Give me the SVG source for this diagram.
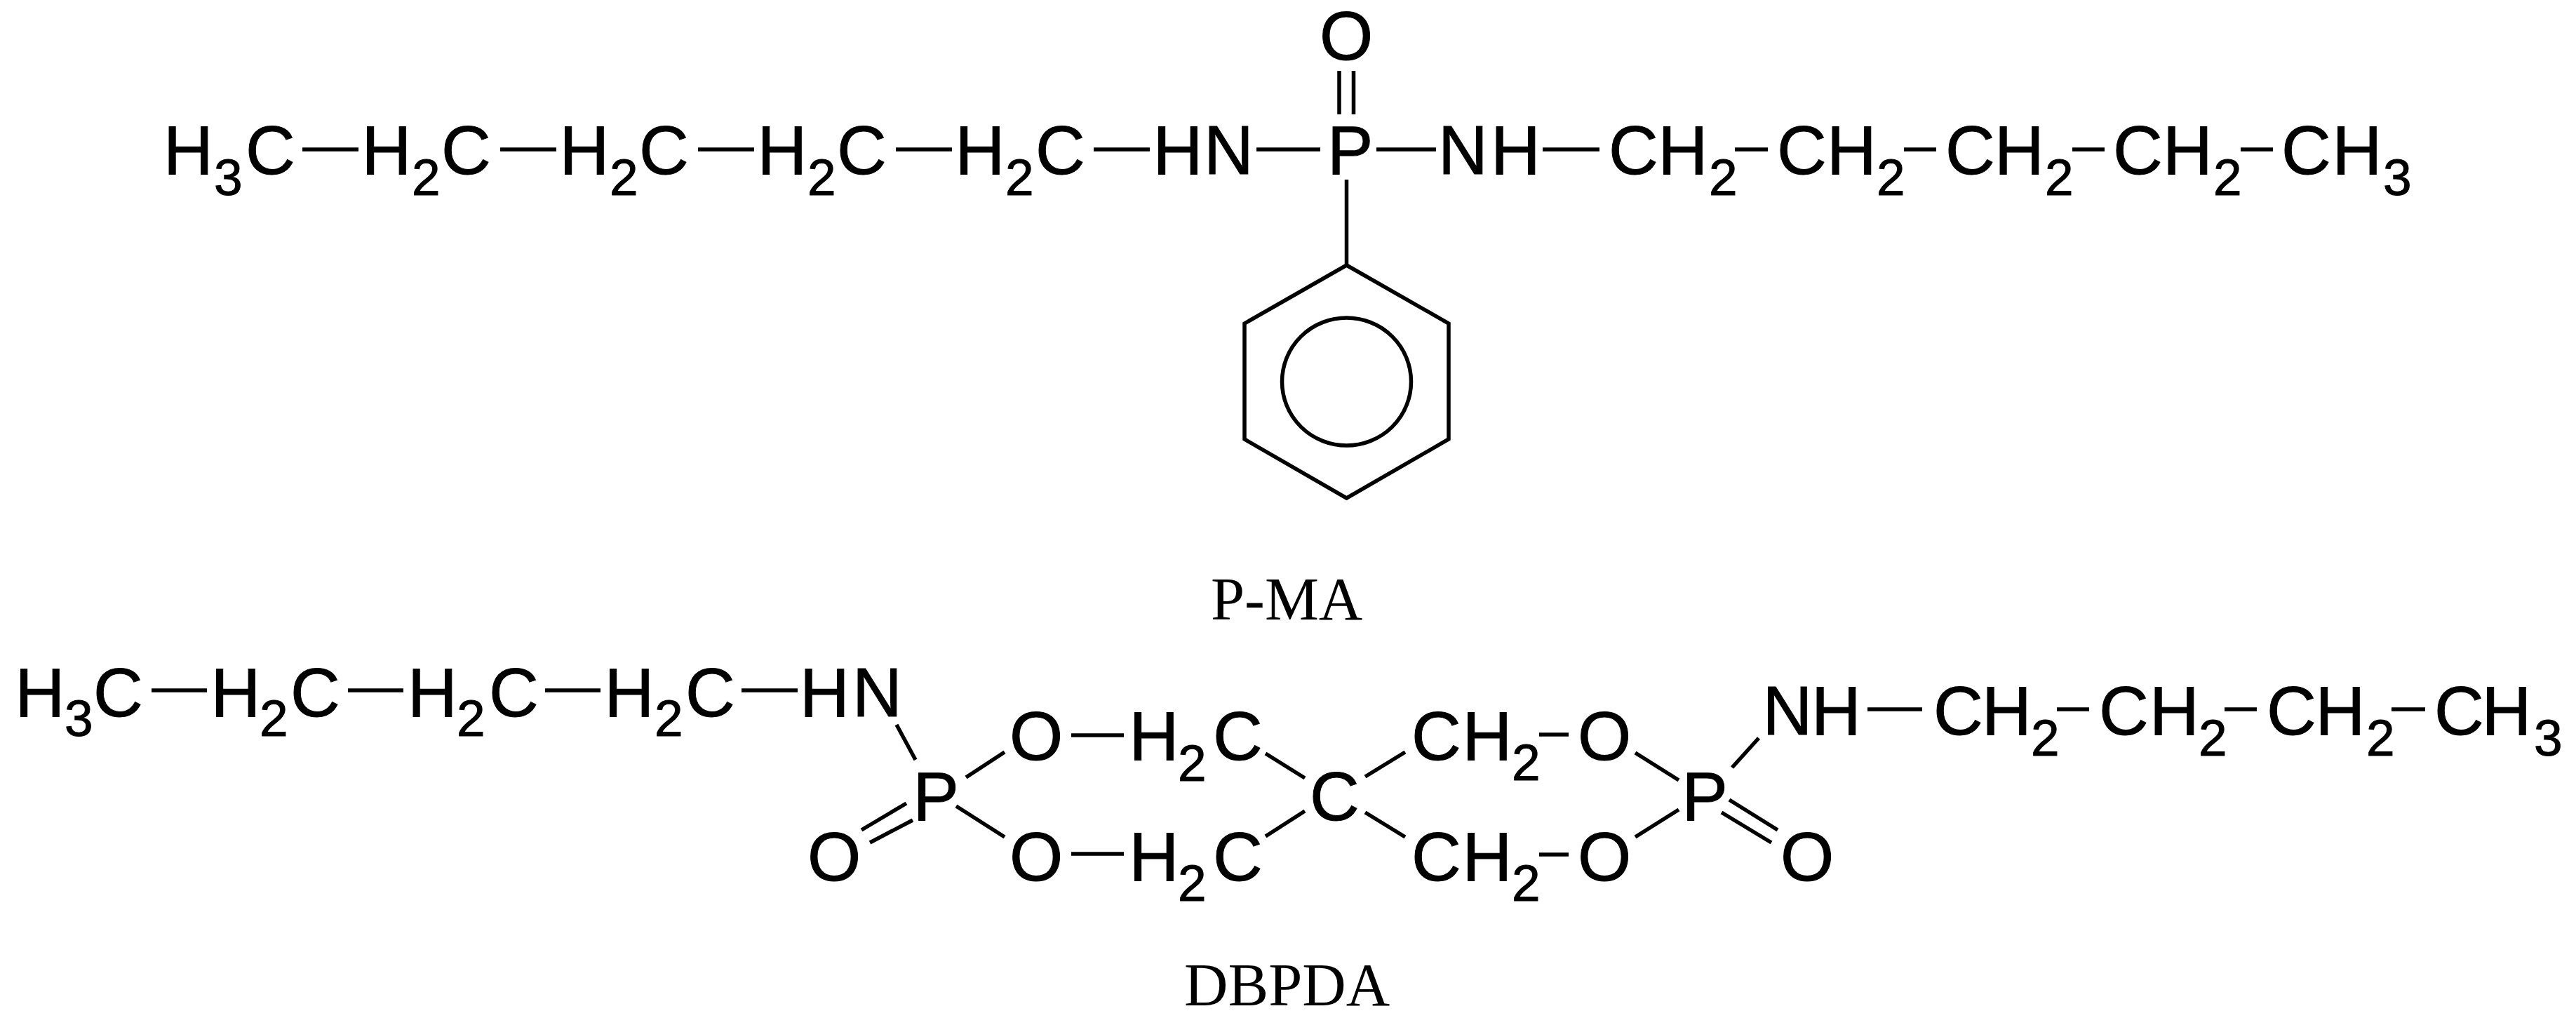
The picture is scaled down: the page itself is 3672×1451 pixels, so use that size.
<svg xmlns="http://www.w3.org/2000/svg" width="3672" height="1451" viewBox="0 0 3672 1451">
<style>
text{font-family:"Liberation Sans",Arial,sans-serif;font-size:98px;fill:#000;stroke:#000;stroke-width:1}
.s{font-size:73px}
text.cap{font-family:"Liberation Serif","Times New Roman",serif;font-size:86.5px;stroke:none}
#connectors line,#connectors polyline,#connectors ellipse{stroke:#000;stroke-width:5.5;fill:none}
</style>
<rect width="3672" height="1451" fill="#fff"/>
<g id="connectors">
<line x1="431" y1="213" x2="511" y2="213"/><line x1="713" y1="213" x2="793" y2="213"/><line x1="995" y1="213" x2="1075" y2="213"/><line x1="1277" y1="213" x2="1357" y2="213"/><line x1="1559" y1="213" x2="1639" y2="213"/><line x1="1791" y1="213" x2="1882" y2="213"/><line x1="1962" y1="213" x2="2047" y2="213"/><line x1="2199" y1="213" x2="2280" y2="213"/><line x1="2473" y1="213" x2="2520" y2="213"/><line x1="2714" y1="213" x2="2760" y2="213"/><line x1="2954" y1="213" x2="3000" y2="213"/><line x1="3194" y1="213" x2="3240" y2="213"/>
<line x1="1909" y1="101" x2="1909" y2="163"/><line x1="1929.500" y1="101" x2="1929.500" y2="163"/><line x1="1919.500" y1="256" x2="1919.500" y2="378"/>
<polyline points="1919.500,378 2065,461 2065,626 1919.500,710 1774,626 1774,461 1919.500,378"/><ellipse cx="1919.500" cy="544" rx="92" ry="91"/>
<line x1="216" y1="984" x2="295" y2="984"/><line x1="496" y1="984" x2="575" y2="984"/><line x1="777" y1="984" x2="856" y2="984"/><line x1="1057" y1="984" x2="1137" y2="984"/>
<line x1="1278" y1="1033" x2="1305" y2="1083"/><line x1="1377" y1="1108" x2="1432" y2="1072"/><line x1="1363" y1="1149" x2="1432" y2="1193"/><line x1="1292" y1="1145" x2="1228" y2="1183"/><line x1="1301" y1="1169" x2="1240" y2="1201"/>
<line x1="1527" y1="1048" x2="1602" y2="1048"/><line x1="1527" y1="1217" x2="1602" y2="1217"/>
<line x1="1804" y1="1074" x2="1860" y2="1109"/><line x1="1860" y1="1156" x2="1804" y2="1192"/><line x1="1946" y1="1107" x2="2003" y2="1072"/><line x1="1946" y1="1158" x2="2003" y2="1193"/>
<line x1="2194" y1="1047" x2="2236" y2="1047"/><line x1="2194" y1="1218" x2="2236" y2="1218"/>
<line x1="2331" y1="1073" x2="2393" y2="1112"/><line x1="2393" y1="1154" x2="2331" y2="1193"/><line x1="2469" y1="1094" x2="2507" y2="1052"/><line x1="2465" y1="1140" x2="2534" y2="1183"/><line x1="2454" y1="1158" x2="2525" y2="1201"/>
<line x1="2662" y1="1011" x2="2740" y2="1011"/><line x1="2932" y1="1011" x2="2978" y2="1011"/><line x1="3171" y1="1011" x2="3217" y2="1011"/><line x1="3409" y1="1011" x2="3457" y2="1011"/>
</g>
<g id="pma">
<g id="a1"><text y="248"><tspan x="233">H</tspan><tspan class="s" x="305" y="278">3</tspan><tspan x="350" y="248">C</tspan></text></g>
<g id="a2"><text y="248"><tspan x="515.5">H</tspan><tspan class="s" x="587" y="278">2</tspan><tspan x="629" y="248">C</tspan></text></g>
<g id="a3"><text y="248"><tspan x="797.5">H</tspan><tspan class="s" x="869" y="278">2</tspan><tspan x="911" y="248">C</tspan></text></g>
<g id="a4"><text y="248"><tspan x="1079.5">H</tspan><tspan class="s" x="1151" y="278">2</tspan><tspan x="1193" y="248">C</tspan></text></g>
<g id="a5"><text y="248"><tspan x="1361.5">H</tspan><tspan class="s" x="1433" y="278">2</tspan><tspan x="1476" y="248">C</tspan></text></g>
<g id="a6"><text y="248"><tspan x="1643.5">H</tspan><tspan x="1716">N</tspan></text></g>
<g id="a7"><text x="1892" y="248">P</text></g>
<g id="a8"><text x="1881" y="85">O</text></g>
<g id="a9"><text y="248"><tspan x="2050">N</tspan><tspan x="2125">H</tspan></text></g>
<g id="a10"><text y="248"><tspan x="2293">C</tspan><tspan x="2363.5">H</tspan><tspan class="s" x="2436" y="278">2</tspan></text></g>
<g id="a11"><text y="248"><tspan x="2533">C</tspan><tspan x="2604">H</tspan><tspan class="s" x="2675" y="278">2</tspan></text></g>
<g id="a12"><text y="248"><tspan x="2773">C</tspan><tspan x="2843">H</tspan><tspan class="s" x="2915" y="278">2</tspan></text></g>
<g id="a13"><text y="248"><tspan x="3012">C</tspan><tspan x="3083">H</tspan><tspan class="s" x="3155" y="278">2</tspan></text></g>
<g id="a14"><text y="248"><tspan x="3252">C</tspan><tspan x="3324.5">H</tspan><tspan class="s" x="3397" y="278">3</tspan></text></g>
<g id="pma-label"><text class="cap" x="1726" y="883">P-MA</text></g>
</g>
<g id="dbpda">
<g id="b1"><text y="1021"><tspan x="21.5">H</tspan><tspan class="s" x="92" y="1049">3</tspan><tspan x="133" y="1021">C</tspan></text></g>
<g id="b2"><text y="1021"><tspan x="300.5">H</tspan><tspan class="s" x="370" y="1049">2</tspan><tspan x="414" y="1021">C</tspan></text></g>
<g id="b3"><text y="1021"><tspan x="581">H</tspan><tspan class="s" x="651" y="1049">2</tspan><tspan x="697" y="1021">C</tspan></text></g>
<g id="b4"><text y="1021"><tspan x="861.5">H</tspan><tspan class="s" x="933" y="1049">2</tspan><tspan x="977" y="1021">C</tspan></text></g>
<g id="b5"><text y="1021"><tspan x="1140">H</tspan><tspan x="1215">N</tspan></text></g>
<g id="b6"><text x="1301.5" y="1169">P</text></g>
<g id="b7"><text x="1439" y="1083">O</text></g>
<g id="b8"><text x="1439" y="1255">O</text></g>
<g id="b9"><text x="1151" y="1255">O</text></g>
<g id="b10"><text y="1083"><tspan x="1609.5">H</tspan><tspan class="s" x="1679" y="1113">2</tspan><tspan x="1729" y="1083">C</tspan></text></g>
<g id="b11"><text y="1255"><tspan x="1609.5">H</tspan><tspan class="s" x="1679" y="1284">2</tspan><tspan x="1729" y="1255">C</tspan></text></g>
<g id="b12"><text x="1867" y="1169">C</text></g>
<g id="b13"><text y="1083"><tspan x="2012">C</tspan><tspan x="2084.5">H</tspan><tspan class="s" x="2155" y="1112">2</tspan></text></g>
<g id="b14"><text y="1255"><tspan x="2012">C</tspan><tspan x="2084.5">H</tspan><tspan class="s" x="2155" y="1284">2</tspan></text></g>
<g id="b15"><text x="2249" y="1083">O</text></g>
<g id="b16"><text x="2249" y="1255">O</text></g>
<g id="b17"><text x="2397.5" y="1169">P</text></g>
<g id="b18"><text x="2538" y="1255">O</text></g>
<g id="b19"><text y="1047"><tspan x="2512.5">N</tspan><tspan x="2582">H</tspan></text></g>
<g id="b20"><text y="1047"><tspan x="2756">C</tspan><tspan x="2825">H</tspan><tspan class="s" x="2895" y="1077">2</tspan></text></g>
<g id="b21"><text y="1047"><tspan x="2992">C</tspan><tspan x="3064">H</tspan><tspan class="s" x="3134" y="1077">2</tspan></text></g>
<g id="b22"><text y="1047"><tspan x="3231">C</tspan><tspan x="3300.5">H</tspan><tspan class="s" x="3373" y="1077">2</tspan></text></g>
<g id="b23"><text y="1047"><tspan x="3470">C</tspan><tspan x="3537.5">H</tspan><tspan class="s" x="3612" y="1077">3</tspan></text></g>
<g id="dbpda-label"><text class="cap" x="1688" y="1433">DBPDA</text></g>
</g>
</svg>
